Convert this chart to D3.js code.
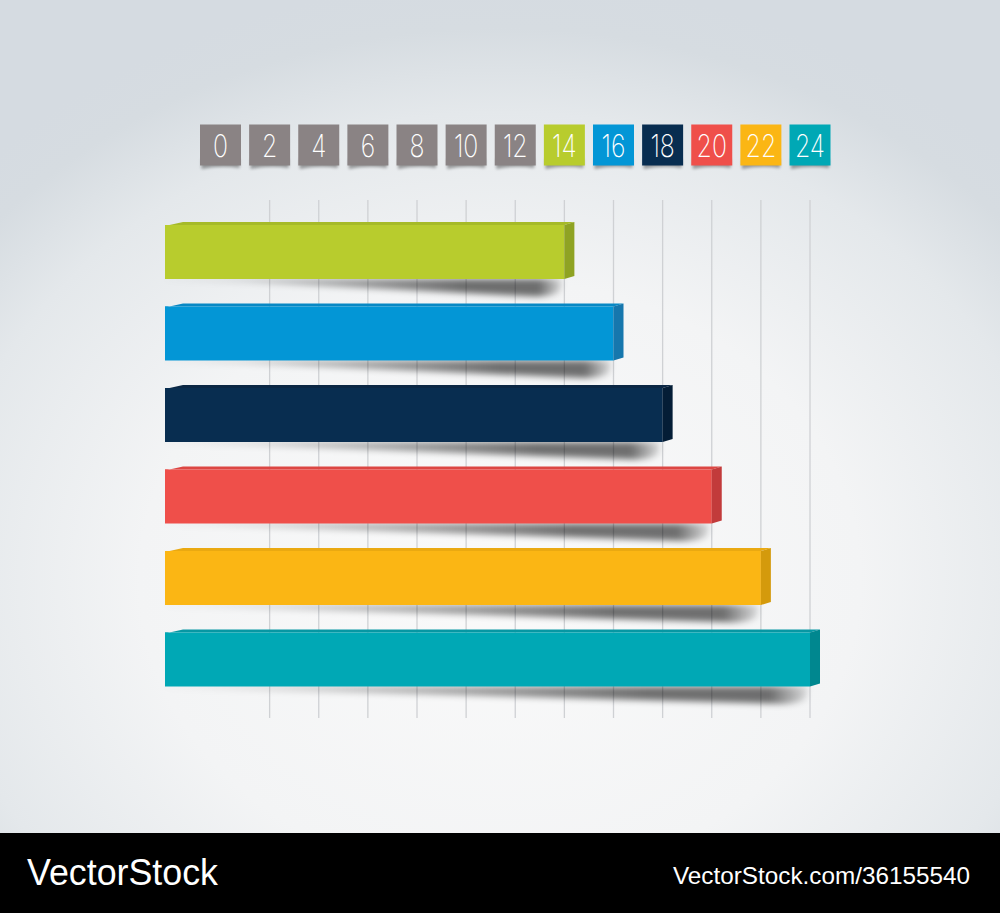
<!DOCTYPE html>
<html><head><meta charset="utf-8">
<script src="https://cdn.jsdelivr.net/npm/d3@7/dist/d3.min.js"></script>
<style>html,body{margin:0;padding:0;overflow:hidden;background:#fff}</style>
</head><body>
<script>
// ---- data ----
const tickValues = [0, 2, 4, 6, 8, 10, 12, 14, 16, 18, 20, 22, 24];
const tickColors = ["#8a8384","#8a8384","#8a8384","#8a8384","#8a8384","#8a8384","#8a8384",
                    "#b8cc2d","#0396d6","#082d50","#ef4f4a","#fbb614","#00a8b5"];
const categories = ["A", "B", "C", "D", "E", "F"];
const values = [14, 16, 18, 20, 22, 24];
const barColors = ["#b8cc2d", "#0396d6", "#082d50", "#ef4f4a", "#fbb614", "#00a8b5"];
const sideColors = ["#8fa323", "#1677ad", "#041d36", "#c23b3b", "#d49a0c", "#00878f"];
const topColors = ["#a6ba28", "#0888c4", "#0b2744", "#dc4643", "#eaa911", "#0797a3"];

const W = 1000, H = 913;
const svg = d3.select("body").append("svg").attr("width", W).attr("height", H);
const defs = svg.append("defs");

// background
const bg = defs.append("radialGradient").attr("id", "bg")
  .attr("gradientUnits", "userSpaceOnUse").attr("cx", 500).attr("cy", 580).attr("r", 600)
  .attr("gradientTransform", "translate(500,580) scale(1.2,1) translate(-500,-580)");
bg.append("stop").attr("offset", 0).attr("stop-color", "#fafafa");
bg.append("stop").attr("offset", 0.5).attr("stop-color", "#f3f4f5");
bg.append("stop").attr("offset", 0.78).attr("stop-color", "#e4e8eb");
bg.append("stop").attr("offset", 0.92).attr("stop-color", "#d6dce1");
bg.append("stop").attr("offset", 1).attr("stop-color", "#d5dbe1");
svg.append("rect").attr("width", W).attr("height", H).attr("fill", "url(#bg)");

const blur = defs.append("filter").attr("id", "blur").attr("x", "-20%").attr("y", "-80%").attr("width", "140%").attr("height", "260%");
blur.append("feGaussianBlur").attr("stdDeviation", 3);
const blur2 = defs.append("filter").attr("id", "blur2").attr("x", "-20%").attr("y", "-50%").attr("width", "140%").attr("height", "200%");
blur2.append("feGaussianBlur").attr("stdDeviation", 1.5);

const sg = defs.append("linearGradient").attr("id", "shadowGrad").attr("x1", 0).attr("x2", 1).attr("y1", 0).attr("y2", 0);
sg.append("stop").attr("offset", 0).attr("stop-color", "#000").attr("stop-opacity", 0.05);
sg.append("stop").attr("offset", 0.4).attr("stop-color", "#000").attr("stop-opacity", 0.3);
sg.append("stop").attr("offset", 0.75).attr("stop-color", "#000").attr("stop-opacity", 0.55);
sg.append("stop").attr("offset", 0.94).attr("stop-color", "#000").attr("stop-opacity", 0.55);
sg.append("stop").attr("offset", 1).attr("stop-color", "#000").attr("stop-opacity", 0.1);

// scales
const x = d3.scaleLinear().domain([0, 24]).range([220.5, 810]);
const barLeft = 165;
const y = d3.scaleBand().domain(categories).range([225, 686.5]).paddingInner(0.3374).paddingOuter(0);
const depth = 10, lift = 3;

// gridlines
svg.append("g").selectAll("line").data(tickValues.filter(d => d > 0)).join("line")
  .attr("x1", d => x(d)).attr("x2", d => x(d))
  .attr("y1", 200).attr("y2", 718)
  .attr("stroke", "#cfd1d4").attr("stroke-width", 1.3);

// tick boxes
const tg = svg.append("g").selectAll("g").data(tickValues).join("g")
  .attr("transform", d => `translate(${x(d)},145)`);
tg.append("path")
  .attr("d", "M-19,14 L19,14 L19,23 Q0,20 -19,24 Z")
  .attr("fill", "#000").attr("opacity", 0.35).attr("filter", "url(#blur2)");
tg.append("rect").attr("x", -20.5).attr("y", -20.5).attr("width", 41).attr("height", 41)
  .attr("fill", (d, i) => tickColors[i]);
tg.append("text").text(d => d)
  .attr("text-anchor", "middle").attr("y", 11.5)
  .attr("transform", "scale(0.8,1)")
  .attr("fill", "#fff")
  .style("font-family", "Inter, 'Open Sans', sans-serif")
  .style("font-weight", 250)
  .style("font-size", "31px");

// bars
const bars = svg.append("g").selectAll("g").data(values).join("g");
// shadow
bars.append("path")
  .attr("d", (d, i) => {
    const y0 = y(categories[i]) + y.bandwidth();
    const xe = x(d);
    return `M${barLeft},${y0} L${xe - 2},${y0} L${xe - 4},${y0 + 12} Q${xe - 12},${y0 + 19} ${xe - 40},${y0 + 17} L${barLeft + 80},${y0 + 3} L${barLeft},${y0 + 1} Z`;
  })
  .attr("fill", "url(#shadowGrad)").attr("filter", "url(#blur)");
// top face
bars.append("path")
  .attr("d", (d, i) => {
    const y0 = y(categories[i]);
    const xe = x(d);
    return `M${barLeft},${y0 + 1} L${barLeft + 18},${y0 - lift} L${xe + depth},${y0 - lift} L${xe},${y0} L${barLeft},${y0} Z`;
  })
  .attr("fill", (d, i) => topColors[i]);
// front face
bars.append("rect")
  .attr("x", barLeft).attr("y", (d, i) => y(categories[i]))
  .attr("width", d => x(d) - barLeft).attr("height", y.bandwidth())
  .attr("fill", (d, i) => barColors[i]);
// side face
bars.append("path")
  .attr("d", (d, i) => {
    const y0 = y(categories[i]);
    const y1 = y0 + y.bandwidth();
    const xe = x(d);
    return `M${xe},${y0} L${xe + depth},${y0 - lift} L${xe + depth},${y1 - lift} L${xe},${y1} Z`;
  })
  .attr("fill", (d, i) => sideColors[i]);

// banner
svg.append("rect").attr("x", 0).attr("y", 833).attr("width", W).attr("height", H - 833).attr("fill", "#000");
svg.append("text").text("VectorStock").attr("x", 27).attr("y", 885)
  .attr("fill", "#fff").style("font-family", "'Liberation Sans', Arial, sans-serif")
  .style("font-size", "36px").attr("textLength", 191).attr("lengthAdjust", "spacingAndGlyphs");
svg.append("text").text("VectorStock.com/36155540").attr("x", 673).attr("y", 884)
  .attr("fill", "#fff").style("font-family", "'Liberation Sans', Arial, sans-serif")
  .style("font-size", "24px").attr("textLength", 297).attr("lengthAdjust", "spacingAndGlyphs");
</script>
</body></html>
